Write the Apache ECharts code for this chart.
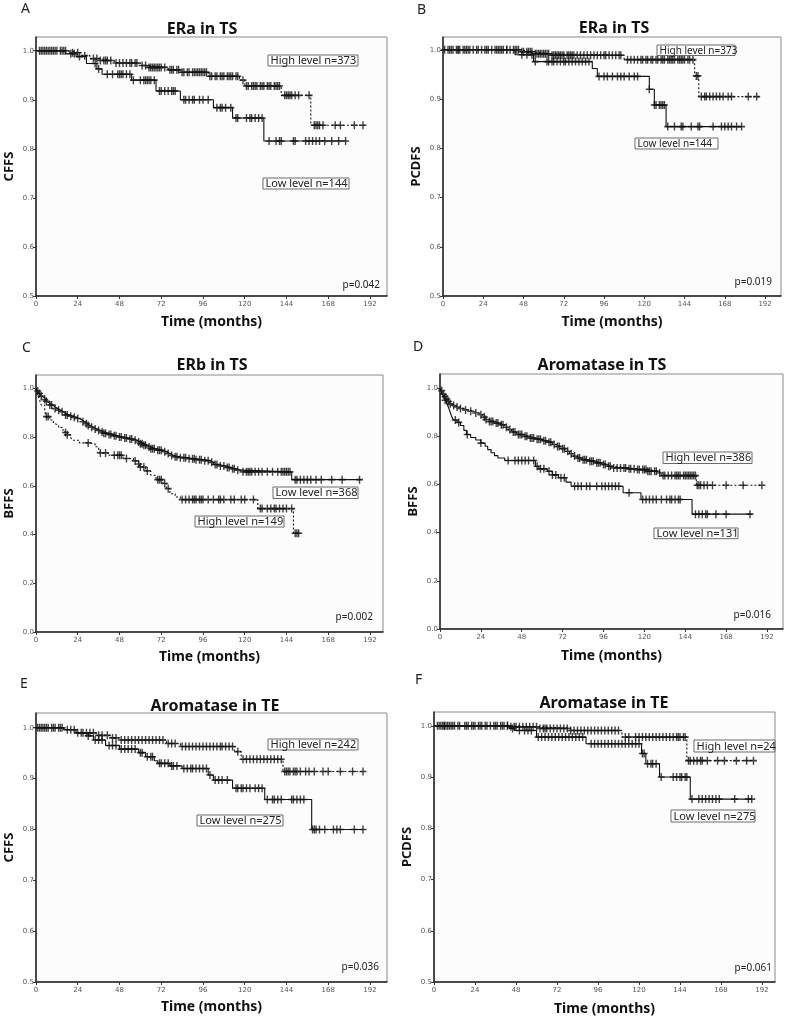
<!DOCTYPE html>
<html><head><meta charset="utf-8">
<script src="https://cdn.jsdelivr.net/npm/echarts@6/dist/echarts.min.js"></script>
<style>html,body{margin:0;padding:0;background:#fff}#c{width:787px;height:1019px}</style>
</head><body><div id="c"></div>
<script>
// ---------- tick labels & texts ----------
const xTicks = [0,24,48,72,96,120,144,168,192];
const yTicksHalf = [0.5,0.6,0.7,0.8,0.9,1.0];
const yTicksFull = [0,0.2,0.4,0.6,0.8,1.0];
const panelLetters = ['A','B','C','D','E','F'];
const panelTitles = ['ERa in TS','ERa in TS','ERb in TS','Aromatase in TS','Aromatase in TE','Aromatase in TE'];
const yNames = ['CFFS','PCDFS','BFFS','BFFS','CFFS','PCDFS'];
const xName = 'Time (months)';
const highLabels = ['High level n=373','High level n=373','High level n=149','High level n=386','High level n=242','High level n=24'];
const lowLabels = ['Low level n=144','Low level n=144','Low level n=368','Low level n=131','Low level n=275','Low level n=275'];
const pValues = ['p=0.042','p=0.019','p=0.002','p=0.016','p=0.036','p=0.061'];

// ---------- data: [time, survival] steps and censor times ----------
const aHighSteps = [[0,1],[18,0.996],[26,0.99],[31,0.984],[36,0.98],[45,0.975],[60,0.97],[64,0.966],[76,0.961],[83,0.956],[99,0.948],[117,0.94],[120,0.928],[141,0.909],[158,0.848],[189,0.848]];
const aHighCensor = [2,3,4,6,7,8,9,10,12,14,15,17,21,24,28,33,35,37,39,40,41,43,46,48,50,52,54,55,57,58,61,63,65,66,67,68,69,70,71,72,74,77,78,79,81,82,84,85,87,88,90,91,92,93,94,95,96,97,98,100,101,103,104,106,107,108,110,111,112,113,115,116,119,121,122,124,125,126,127,129,130,131,133,134,135,137,138,139,140,143,144,145,146,147,149,151,157,160,161,162,163,165,172,175,183,188];
const aLowSteps = [[0,1],[17,0.994],[23,0.988],[29,0.974],[35,0.963],[38,0.952],[55,0.94],[69,0.918],[83,0.9],[102,0.884],[113,0.863],[131,0.816],[178,0.816]];
const aLowCensor = [5,11,16,20,22,25,34,36,41,44,47,48,49,50,52,54,56,60,62,63,64,65,66,68,71,72,74,76,78,79,80,85,86,88,90,91,94,96,99,104,106,107,109,112,115,116,121,123,124,126,128,130,134,138,140,141,148,149,155,157,159,161,163,166,170,174,178];

const bHighSteps = [[0,1],[46,0.996],[54,0.992],[64,0.989],[108,0.98],[150,0.947],[152.5,0.905],[189,0.905]];
const bHighCensor = [1,3,5,6,8,9,10,12,13,15,16,18,21,23,25,26,29,31,32,34,35,36,38,40,42,43,44,45,47,48,50,51,52,53,55,56,57,58,59,60,61,62,63,65,66,67,68,69,70,71,72,74,75,76,77,78,80,82,84,86,88,90,92,94,96,97,99,101,103,105,106,110,112,114,116,118,119,121,122,124,125,127,128,130,131,132,134,135,136,137,138,140,141,142,143,144,146,147,149,151,152,154,156,157,159,161,163,165,167,170,172,182,187];
const bLowSteps = [[0,1],[43,0.99],[54,0.976],[89,0.962],[92,0.946],[123,0.92],[126,0.888],[133,0.844],[178,0.844]];
const bLowCensor = [4,9,14,20,27,33,38,47,50,53,55,62,63,65,66,68,70,72,73,75,77,79,81,83,85,87,93,96,98,101,104,106,108,111,114,116,123,126,127,129,130,131,132,134,138,142,143,148,152,153,161,166,168,170,172,175,178];

const cHighSteps = [[0,1],[1,0.974],[2,0.955],[3,0.933],[5,0.905],[6,0.885],[8,0.871],[10,0.858],[11,0.85],[13,0.84],[15,0.83],[16.5,0.82],[18,0.81],[20,0.798],[21,0.788],[25,0.777],[31,0.772],[34,0.761],[36,0.748],[37,0.736],[42,0.726],[50,0.713],[56,0.703],[59,0.69],[60,0.678],[63,0.662],[66,0.644],[69,0.626],[73,0.61],[75,0.589],[77,0.568],[80,0.555],[83,0.544],[127.5,0.507],[148,0.406],[151,0.406]];
const cHighCensor = [6,7,17,18,30,37,40,45,47,48,49,52,57,59,60,62,64,70,71,72,74,76,84,86,88,90,91,92,94,95,96,99,102,105,106,108,112,114,118,120,125,129,130,133,135,137,138,140,142,144,147,149,150,151];
const cLowSteps = [[0,1],[1,0.99],[2,0.98],[3,0.97],[4,0.962],[5,0.955],[6,0.948],[7,0.94],[8,0.933],[9.5,0.925],[11,0.918],[12.5,0.911],[14,0.905],[15.5,0.898],[17,0.892],[19,0.887],[21,0.882],[23,0.877],[25,0.871],[26.5,0.864],[28,0.856],[29.5,0.848],[31,0.841],[33,0.834],[35,0.828],[37,0.822],[39,0.817],[41,0.812],[44,0.806],[47,0.801],[50,0.797],[53,0.793],[56,0.788],[58,0.781],[60,0.774],[62,0.767],[64,0.76],[66,0.753],[69,0.747],[73,0.741],[75,0.733],[77,0.725],[79,0.72],[83,0.716],[87,0.712],[92,0.708],[97,0.704],[100,0.697],[102,0.688],[105,0.682],[109,0.676],[112,0.671],[115,0.665],[118,0.658],[147,0.626],[187,0.626]];
const cLowCensor = [1,2,3,5,6,8,9,11,13,15,17,18,20,22,24,27,29,30,32,34,36,38,39,40,42,43,45,46,48,49,51,52,54,55,57,59,60,61,62,63,65,66,67,68,70,71,72,74,76,78,80,81,83,85,86,88,90,91,92,94,95,97,99,101,103,104,106,108,110,111,113,114,116,119,121,122,123,124,126,128,130,133,136,139,141,142,143,144,145,146,149,150,152,154,156,158,161,164,170,176,186];

const dHighSteps = [[0,1],[1,0.99],[2,0.975],[3,0.965],[4,0.955],[5,0.945],[6,0.935],[7,0.928],[9,0.922],[11,0.916],[14,0.91],[17,0.904],[20,0.897],[23,0.89],[25,0.88],[27,0.87],[29,0.862],[32,0.855],[35,0.848],[38,0.838],[40,0.828],[42,0.818],[45,0.808],[49,0.8],[52,0.793],[56,0.788],[60,0.782],[63,0.776],[66,0.766],[68,0.758],[71,0.749],[74,0.738],[76,0.728],[78,0.718],[80,0.71],[83,0.703],[87,0.697],[91,0.69],[95,0.683],[98,0.676],[101,0.669],[110,0.665],[115,0.662],[122,0.655],[128,0.648],[130,0.637],[150.5,0.597],[189,0.597]];
const dHighCensor = [1,2,3,4,5,6,8,10,12,15,18,21,24,26,27,29,30,31,33,34,36,37,39,41,43,44,46,47,48,50,51,53,54,55,57,58,59,61,62,64,65,67,69,70,72,73,75,77,79,81,82,84,85,86,88,89,90,92,93,94,96,97,99,100,102,104,106,108,109,111,112,114,116,117,119,120,121,122,123,124,126,127,129,131,132,134,136,138,139,140,141,143,144,145,146,147,148,149,150,151,152,153,155,157,160,168,178,189];
const dLowSteps = [[0,1],[1,0.98],[2,0.965],[3,0.95],[4,0.935],[5,0.92],[6,0.9],[7,0.88],[8,0.868],[10,0.858],[12,0.845],[14,0.825],[15.5,0.808],[18,0.795],[21,0.785],[24,0.772],[26.5,0.759],[28,0.745],[30,0.732],[32,0.72],[34,0.71],[38,0.7],[56,0.676],[58,0.665],[63,0.655],[66,0.64],[69.5,0.628],[74,0.61],[77,0.593],[107.5,0.566],[118,0.538],[148,0.477],[183,0.477]];
const dLowCensor = [3,9,11,16,24,40,44,46,48,50,52,55,57,59,61,64,66,68,71,73,79,81,83,86,88,92,95,97,99,101,103,105,111,119,121,123,125,127,130,133,135,136,138,140,141,150,152,154,156,157,162,168,182];

const eHighSteps = [[0,1],[16,0.996],[23,0.99],[35,0.985],[43,0.98],[48,0.976],[75,0.969],[83,0.963],[114,0.953],[118,0.938],[142,0.914],[189,0.914]];
const eHighCensor = [1,2,4,5,7,9,11,13,15,18,22,24,27,29,31,33,36,38,41,44,46,49,51,53,55,57,59,61,63,65,67,69,71,73,76,78,80,84,86,88,90,92,94,96,98,100,102,104,106,107,109,111,113,116,119,121,123,125,127,129,131,133,135,137,139,141,143,144,145,146,148,149,150,152,155,157,160,165,168,175,182,188];
const eLowSteps = [[0,1],[16,0.996],[23,0.99],[30,0.984],[33,0.976],[40,0.965],[48,0.958],[59,0.951],[63,0.943],[68,0.935],[70,0.93],[77,0.925],[84,0.92],[99,0.907],[102,0.897],[113,0.881],[131.5,0.859],[158.5,0.8],[188,0.8]];
const eLowCensor = [3,6,10,14,20,26,30,34,36,38,42,44,46,49,51,53,55,57,60,61,64,66,67,71,72,74,76,78,79,81,85,87,89,90,92,94,96,98,100,103,105,107,110,115,116,118,119,121,123,126,128,130,133,136,137,139,141,147,148,150,152,154,159,160,161,163,166,171,173,175,183,188];

const fHighSteps = [[0,1],[45,0.998],[62,0.995],[80,0.991],[110,0.978],[148,0.932],[187,0.932]];
const fHighCensor = [2,4,5,6,7,8,10,12,14,18,20,22,24,26,28,30,33,35,37,39,41,43,45,47,48,50,52,54,56,58,60,62,64,65,66,68,70,72,74,76,78,80,82,84,86,88,90,92,94,96,98,100,102,104,106,108,112,114,118,120,122,124,126,128,130,132,134,136,138,140,142,143,144,146,147,149,150,152,154,156,157,160,166,170,177,183,187];
const fLowSteps = [[0,1],[44,0.995],[47,0.991],[60,0.978],[89,0.965],[121.5,0.946],[124,0.926],[132,0.9],[150,0.857],[186,0.857]];
const fLowCensor = [3,6,9,11,15,19,23,27,31,36,40,43,46,50,53,55,57,61,63,65,67,69,71,73,75,77,79,81,83,85,87,92,94,96,98,100,102,104,106,108,110,112,114,116,118,120,122,123,125,127,128,130,133,140,142,144,145,147,148,151,155,157,159,161,163,165,167,176,184,186];

// ---------- layout (positions / sizes only) ----------
const layouts = [
 {grid:{left:36,top:37,width:351,height:259}, xMax:201.8, yMin:0.5, yMax:1.028, yTicks:yTicksHalf, letter:[21,9], title:[202,29], high:[268,55,90,11], low:[263,178,86,11], p:[380,285], bf:11, xg:19},
 {grid:{left:443,top:37,width:338,height:259}, xMax:201.5, yMin:0.5, yMax:1.026, yTicks:yTicksHalf, letter:[417,10], title:[614,28], high:[657,45,78,10.5], low:[635,138,83,11], p:[772,282], bf:10, xg:19},
 {grid:{left:36,top:375,width:347,height:257}, xMax:199.5, yMin:0, yMax:1.056, yTicks:yTicksFull, letter:[22,348], title:[212,365], high:[195,516,89,11], low:[273,487,85,11.5], p:[373,617], bf:11, xg:18},
 {grid:{left:440,top:374,width:343,height:255}, xMax:201.4, yMin:0, yMax:1.059, yTicks:yTicksFull, letter:[413,347], title:[602,365], high:[663,452,89,11.5], low:[654,528,84,10.7], p:[771,615], bf:11, xg:20},
 {grid:{left:36,top:713,width:351,height:269}, xMax:201.8, yMin:0.5, yMax:1.029, yTicks:yTicksHalf, letter:[20,684], title:[215,706], high:[268,739,90,11], low:[197,815,86,11], p:[379,967], bf:11, xg:18},
 {grid:{left:434,top:712,width:341,height:270}, xMax:199.6, yMin:0.5, yMax:1.027, yTicks:yTicksHalf, letter:[415,680], title:[604,703], high:[694,740,81,12], low:[671,810,84,12], p:[772,968], bf:11, xg:20}
];

const panelsData = [
 [aHighSteps,aHighCensor,aLowSteps,aLowCensor],
 [bHighSteps,bHighCensor,bLowSteps,bLowCensor],
 [cHighSteps,cHighCensor,cLowSteps,cLowCensor],
 [dHighSteps,dHighCensor,dLowSteps,dLowCensor],
 [eHighSteps,eHighCensor,eLowSteps,eLowCensor],
 [fHighSteps,fHighCensor,fLowSteps,fLowCensor]
];

function survAt(steps, t){
  let v = steps[0][1];
  for (const [st, sv] of steps){ if (st <= t) v = sv; else break; }
  return v;
}
const FONT = '"Noto Sans", "DejaVu Sans", sans-serif';
const cross = 'path://M0,3.2H8V4.8H0Z M3.2,0H4.8V8H3.2Z';

const grids=[], xAxes=[], yAxes=[], series=[], graphics=[];
layouts.forEach((L,i)=>{
  grids.push(Object.assign({show:true, backgroundColor:'#fcfcfc', borderColor:'#8a8a8a', borderWidth:1, containLabel:false}, L.grid));
  xAxes.push({type:'value', gridIndex:i, min:0, max:L.xMax,
    name:xName, nameLocation:'middle', nameGap:L.xg,
    nameTextStyle:{fontFamily:FONT, fontWeight:'bold', fontSize:14, color:'#111'},
    axisLine:{show:true, onZero:false, lineStyle:{color:'#222', width:1.5}},
    axisTick:{show:true, length:3, customValues:xTicks, lineStyle:{color:'#333'}},
    axisLabel:{customValues:xTicks, fontSize:7, color:'#555', margin:5, fontFamily:'"DejaVu Sans", sans-serif'},
    splitLine:{show:false}});
  yAxes.push({type:'value', gridIndex:i, min:L.yMin, max:L.yMax,
    name:yNames[i], nameLocation:'middle', nameGap:20,
    nameTextStyle:{fontFamily:FONT, fontWeight:'bold', fontSize:13, color:'#111'},
    axisLine:{show:true, onZero:false, lineStyle:{color:'#222', width:1.5}},
    axisTick:{show:true, length:3, customValues:L.yTicks, lineStyle:{color:'#333'}},
    axisLabel:{customValues:L.yTicks, fontSize:7, color:'#555', margin:2, formatter:v=>v.toFixed(1), fontFamily:'"DejaVu Sans", sans-serif'},
    splitLine:{show:false}});
  const [hs,hc,ls,lc] = panelsData[i];
  series.push({type:'line', xAxisIndex:i, yAxisIndex:i, data:ls, step:'end', showSymbol:false, symbol:'none',
    lineStyle:{color:'#111', width:1.1}, z:2});
  series.push({type:'line', xAxisIndex:i, yAxisIndex:i, data:hs, step:'end', showSymbol:false, symbol:'none',
    lineStyle:{color:'#111', width:1.1, type:[2,2]}, z:2});
  series.push({type:'scatter', xAxisIndex:i, yAxisIndex:i, data:lc.map(t=>[t, survAt(ls,t)]),
    symbol:cross, symbolSize:[7,8], itemStyle:{color:'#111'}, z:3});
  series.push({type:'scatter', xAxisIndex:i, yAxisIndex:i, data:hc.map(t=>[t, survAt(hs,t)]),
    symbol:cross, symbolSize:[7,8], itemStyle:{color:'#111'}, z:3});

  graphics.push({type:'text', x:L.letter[0], y:L.letter[1], z:10,
    style:{text:panelLetters[i], font:'14px '+FONT, fill:'#222', textAlign:'left', textVerticalAlign:'middle'}});
  graphics.push({type:'text', x:L.title[0], y:L.title[1], z:10,
    style:{text:panelTitles[i], font:'bold 16px '+FONT, fill:'#111', textAlign:'center', textVerticalAlign:'middle'}});
  [[L.high, highLabels[i]],[L.low, lowLabels[i]]].forEach(([b,txt])=>{
    graphics.push({type:'rect', z:10, shape:{x:b[0], y:b[1], width:b[2], height:b[3]},
      style:{fill:'#ffffff', stroke:'#6a6a6a', lineWidth:1}});
    graphics.push({type:'text', z:11, x:b[0]+2.5, y:b[1]+b[3]/2+0.5,
      style:{text:txt, font:L.bf+'px '+FONT, fill:'#222', textAlign:'left', textVerticalAlign:'middle'}});
  });
  graphics.push({type:'text', x:L.p[0], y:L.p[1], z:10,
    style:{text:pValues[i], font:'10px '+FONT, fill:'#222', textAlign:'right', textVerticalAlign:'middle'}});
});

const chart = echarts.init(document.getElementById('c'), null, {renderer:'canvas'});
chart.setOption({animation:false, backgroundColor:'#ffffff', grid:grids, xAxis:xAxes, yAxis:yAxes, series:series, graphic:graphics});
</script></body></html>
